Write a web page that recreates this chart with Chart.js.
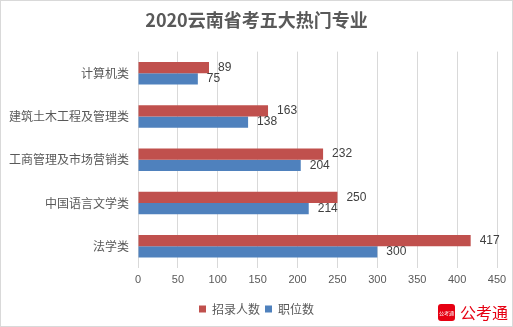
<!DOCTYPE html>
<html>
<head>
<meta charset="utf-8">
<script src="https://cdn.jsdelivr.net/npm/chart.js@4"></script>
<style>
  html, body { margin: 0; padding: 0; background: #fff; }
  #wrap { position: relative; width: 513px; height: 327px; overflow: hidden; }
  #wrap canvas { position: absolute; left: 0; top: 0; }
  #frame { position: absolute; left: 0; top: 0; width: 513px; height: 327px; box-sizing: border-box; border: 1px solid #d9d9d9; pointer-events: none; }
  #logo { position: absolute; left: 438px; top: 303px; height: 18px; display: flex; align-items: center; font-family: 'Noto Sans CJK SC', sans-serif; }
  #logo .ico { width: 17px; height: 17px; border-radius: 3px; background: #e60012; color: #fff; font-size: 5px; line-height: 17px; text-align: center; white-space: nowrap; overflow: hidden; }
  #logo .txt { margin-left: 5px; color: #e60012; font-size: 16px; line-height: 18px; }
</style>
</head>
<body>
<div id="wrap">
  <canvas id="c" width="513" height="327"></canvas>
  <div id="frame"></div>
  <div id="logo"><div class="ico">公考通</div><div class="txt">公考通</div></div>
</div>
<script>
/* ===== 2020云南省考五大热门专业 ===== */
const TITLE = '2020云南省考五大热门专业';
const CATS = ['计算机类', '建筑土木工程及管理类', '工商管理及市场营销类', '中国语言文学类', '法学类'];
const HIRE = [89, 163, 232, 250, 417];     // 招录人数
const POSTS = [75, 138, 204, 214, 300];    // 职位数
const X_TICKS = [0, 50, 100, 150, 200, 250, 300, 350, 400, 450];

const FONT = "'Liberation Sans', 'Noto Sans CJK SC', sans-serif";
const CJK = "'Noto Sans CJK SC', 'Liberation Sans', sans-serif";

// Wertlabels rechts neben den Balken
const valueLabels = {
  id: 'vals',
  afterDatasetsDraw(c) {
    const { ctx } = c;
    ctx.save();
    ctx.font = '12px ' + FONT;
    ctx.fillStyle = '#404040';
    ctx.textAlign = 'left';
    ctx.textBaseline = 'middle';
    c.data.datasets.forEach((ds, di) => {
      c.getDatasetMeta(di).data.forEach((bar, i) => {
        ctx.fillText(String(ds.data[i]), bar.x + 9, bar.y);
      });
    });
    ctx.restore();
  },
};

new Chart(document.getElementById('c'), {
  type: 'bar',
  data: {
    labels: CATS,
    datasets: [
      { label: '招录人数', data: HIRE, backgroundColor: '#c0504d', categoryPercentage: 0.52, barPercentage: 1 },
      { label: '职位数', data: POSTS, backgroundColor: '#4f81bd', categoryPercentage: 0.52, barPercentage: 1 },
    ],
  },
  options: {
    indexAxis: 'y',
    responsive: false,
    animation: false,
    layout: { padding: { left: 8, right: 8, top: 0, bottom: 2 } },
    plugins: {
      title: {
        display: true, text: TITLE, color: '#595959',
        font: { family: CJK, size: 18, weight: 'bold' },
        padding: { top: 9, bottom: 21 },
      },
      legend: {
        position: 'bottom',
        labels: {
          color: '#595959', boxWidth: 7, boxHeight: 7, padding: 5,
          font: { family: CJK, size: 12 },
        },
      },
      tooltip: { enabled: false },
    },
    scales: {
      x: {
        min: 0, max: 450,
        afterBuildTicks: s => { s.ticks = X_TICKS.map(v => ({ value: v })); },
        afterFit: s => { s.height = 30; },
        grid: { color: '#d9d9d9', drawTicks: false },
        border: { display: false },
        ticks: { color: '#595959', padding: 5, font: { family: FONT, size: 11 } },
      },
      y: {
        afterFit: s => { s.width = 130; },
        grid: { display: false, drawTicks: false },
        border: { display: false },
        ticks: { color: '#595959', padding: 9, font: { family: CJK, size: 12 } },
      },
      // leerer Rand rechts, damit Titel/Legende mittig bleiben
      yRight: {
        type: 'linear', axis: 'y', position: 'right',
        afterFit: s => { s.width = 8; },
        grid: { display: false, drawTicks: false },
        border: { display: false },
        ticks: { display: false },
      },
    },
  },
  plugins: [valueLabels],
});
</script>
</body>
</html>
